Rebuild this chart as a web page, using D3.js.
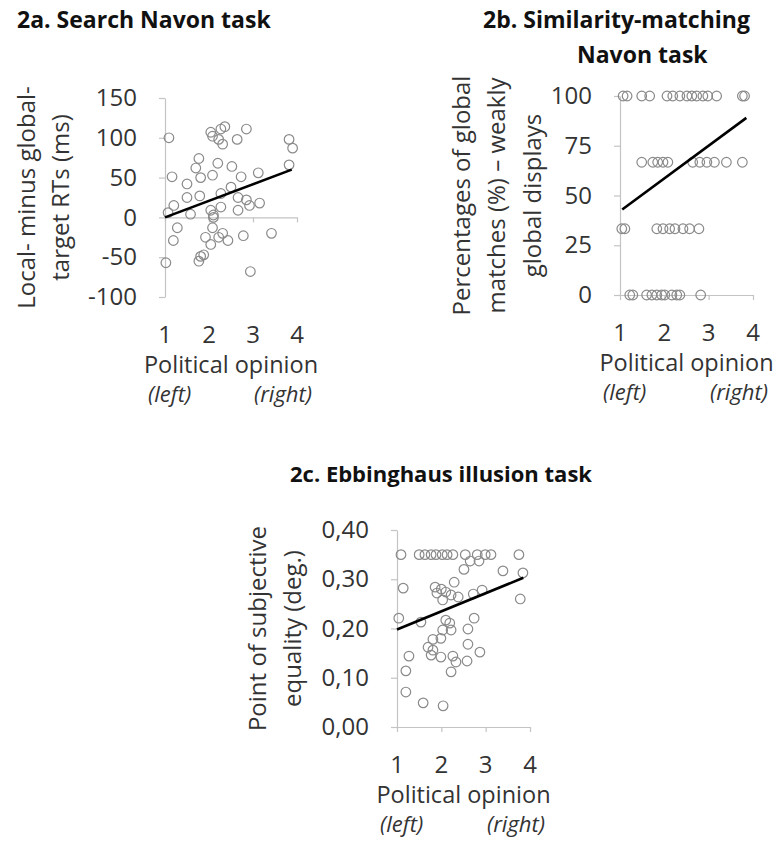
<!DOCTYPE html>
<html>
<head>
<meta charset="utf-8">
<script src="https://cdn.jsdelivr.net/npm/d3@7"></script>
<style>
  body { margin: 0; background: #fff; }
  text { font-family: "Open Sans", sans-serif; }
</style>
</head>
<body>
<div id="chart"></div>
<script>
// shared x axis
const xTicks = [1, 2, 3, 4];

// 2a. Search Navon task
const aYTicks = [-100, -50, 0, 50, 100, 150];
const aX = [1.09, 1.16, 1.5, 1.5, 1.2, 1.07, 1.58, 1.77, 1.7, 1.81, 1.79, 2.04, 2.08, 2.27, 2.36, 2.22, 2.31,
  2.85, 2.64, 2.2, 2.08, 2.52, 2.73, 3.12, 2.5, 2.27, 2.66, 2.85, 2.92, 3.15, 2.66, 2.27, 2.04, 2.1, 3.82, 3.9,
  3.82, 1.28, 1.19, 1.02, 1.92, 2.08, 2.04, 2.31, 2.43, 2.22, 1.88, 1.77, 1.81, 2.78, 3.42, 2.94, 2.1];
const aY = [100, 51, 42, 25, 15, 6, 4, 74, 62, 50, 27, 107, 102, 111, 114, 98, 92,
  111, 98, 68, 53, 64, 51, 56, 38, 30, 25, 22, 15, 18, 9, 13, 9, 3, 98, 87,
  66, -13, -29, -57, -25, -13, -34, -20, -29, -25, -47, -55, -49, -23, -20, -68, 0];
const aFitX = [1, 3.88];
const aFitY = [0, 60];

// 2b. Similarity-matching Navon task
const bYTicks = [0, 25, 50, 75, 100];
const bX = [1.07, 1.16, 1.49, 1.67, 2.06, 2.19, 2.35, 2.51, 2.62, 2.73, 2.87, 2.98, 3.18, 3.76, 3.81,
  1.49, 1.74, 1.85, 1.97, 2.08, 2.64, 2.8, 2.96, 3.13, 3.4, 3.76,
  1.04, 1.11, 1.83, 1.97, 2.12, 2.24, 2.42, 2.57, 2.78,
  1.22, 1.29, 1.6, 1.72, 1.83, 1.94, 2.01, 2.17, 2.28, 2.35, 2.82];
const bY = [100, 100, 100, 100, 100, 100, 100, 100, 100, 100, 100, 100, 100, 100, 100,
  66.7, 66.7, 66.7, 66.7, 66.7, 66.7, 66.7, 66.7, 66.7, 66.7, 66.7,
  33.3, 33.3, 33.3, 33.3, 33.3, 33.3, 33.3, 33.3, 33.3,
  0, 0, 0, 0, 0, 0, 0, 0, 0, 0, 0];
const bFitX = [1.05, 3.85];
const bFitY = [43, 89];

// 2c. Ebbinghaus illusion task
const cYTicks = [0, 0.1, 0.2, 0.3, 0.4];
const cX = [1.09, 1.5, 1.63, 1.77, 1.88, 2.02, 2.13, 2.26, 2.54, 2.81, 2.99, 3.12, 3.75,
  2.65, 2.85, 2.51, 3.39, 3.84, 1.14, 2.29, 1.86, 2.0, 1.9, 2.1, 2.03, 2.22, 2.38, 2.72, 2.92, 3.78,
  1.04, 1.54, 2.1, 2.19, 2.74, 2.03, 2.22, 2.6, 1.99, 1.81, 1.7, 1.81, 2.6, 2.87,
  1.27, 1.77, 1.99, 2.26, 2.33, 2.58, 1.2, 2.22, 1.2, 1.59, 2.04];
const cY = [0.35, 0.35, 0.35, 0.35, 0.35, 0.35, 0.35, 0.35, 0.35, 0.35, 0.35, 0.35, 0.35,
  0.337, 0.337, 0.32, 0.317, 0.313, 0.282, 0.294, 0.284, 0.28, 0.272, 0.274, 0.258, 0.268, 0.264, 0.27, 0.278, 0.26,
  0.221, 0.213, 0.217, 0.211, 0.221, 0.197, 0.197, 0.199, 0.18, 0.178, 0.162, 0.156, 0.168, 0.152,
  0.144, 0.146, 0.142, 0.144, 0.132, 0.134, 0.114, 0.112, 0.071, 0.049, 0.043];
const cFitX = [1, 3.85];
const cFitY = [0.198, 0.303];

const w = 780;
const h = 841;

const svg = d3
  .select("#chart")
  .append("svg")
  .attr("width", w)
  .attr("height", h);

svg.append("rect").attr("width", w).attr("height", h).attr("fill", "#fff");

function drawPanel(p) {
  let x = d3.scaleLinear().domain([1, 4]).range([p.left, p.right]);
  let y = d3.scaleLinear().domain(p.yDomain).range([p.bottom, p.top]);
  let g = svg.append("g");

  let yAxis = d3
    .axisLeft(y)
    .tickValues(p.yTicks)
    .tickSize(6)
    .tickSizeOuter(0)
    .tickPadding(22)
    .tickFormat(p.format);

  let ya = g
    .append("g")
    .attr("transform", `translate(${p.left},0)`)
    .call(yAxis);

  let xAxis = d3
    .axisBottom(x)
    .tickValues(xTicks)
    .tickSize(5)
    .tickSizeOuter(0)
    .tickFormat("");

  let xa = g
    .append("g")
    .attr("transform", `translate(0,${y(p.cross)})`)
    .call(xAxis);

  [ya, xa].forEach(function (a) {
    a.selectAll(".domain, line").attr("stroke", "#c4c4c4").attr("stroke-width", 1.2);
    a.selectAll("text")
      .attr("font-family", "Open Sans, sans-serif")
      .attr("font-size", 24)
      .attr("fill", "#333");
  });

  // x tick labels sit below the plot area
  g.append("g")
    .selectAll("text")
    .data(xTicks)
    .enter()
    .append("text")
    .attr("x", function (d) {
      return x(d);
    })
    .attr("y", p.bottom + 38)
    .attr("dy", "0.35em")
    .attr("text-anchor", "middle")
    .attr("font-size", 24)
    .attr("fill", "#333")
    .text(function (d) {
      return d;
    });

  g.append("text")
    .attr("x", (p.left + p.right) / 2)
    .attr("y", p.bottom + 68)
    .attr("dy", "0.35em")
    .attr("text-anchor", "middle")
    .attr("font-size", 23.5)
    .attr("fill", "#333")
    .text("Political opinion");

  g.append("text")
    .attr("x", p.left - 17)
    .attr("y", p.bottom + 97)
    .attr("dy", "0.35em")
    .attr("font-size", 22)
    .attr("font-style", "italic")
    .attr("fill", "#333")
    .text("(left)");

  g.append("text")
    .attr("x", p.right + 15)
    .attr("y", p.bottom + 97)
    .attr("dy", "0.35em")
    .attr("text-anchor", "end")
    .attr("font-size", 22)
    .attr("font-style", "italic")
    .attr("fill", "#333")
    .text("(right)");

  // rotated y label, one text per line
  let yc = (p.top + p.bottom) / 2;
  p.yLabel.forEach(function (line, i) {
    g.append("text")
      .attr("transform", `translate(${p.yLabelX[i]},${yc}) rotate(-90)`)
      .attr("dy", "0.35em")
      .attr("text-anchor", "middle")
      .attr("font-size", 24)
      .attr("fill", "#333")
      .text(line);
  });

  // points
  g.append("g")
    .selectAll("circle")
    .data(p.xs)
    .enter()
    .append("circle")
    .attr("cx", function (d) {
      return x(d);
    })
    .attr("cy", function (d, i) {
      return y(p.ys[i]);
    })
    .attr("r", 4.8)
    .attr("fill", "none")
    .attr("stroke", "#8a8a8a")
    .attr("stroke-width", 1.2);

  // fitted line
  let line = d3
    .line()
    .x(function (d) {
      return x(d);
    })
    .y(function (d, i) {
      return y(p.fitY[i]);
    });

  g.append("path")
    .attr("d", line(p.fitX))
    .attr("fill", "none")
    .attr("stroke", "#000")
    .attr("stroke-width", 2.6);

  p.title.forEach(function (t) {
    g.append("text")
      .attr("x", t[1])
      .attr("y", t[2])
      .attr("font-size", t[3])
      .attr("font-weight", "bold")
      .attr("fill", "#111")
      .text(t[0]);
  });
}

// plain hyphen for negatives, as in the original
const intFmt = function (d) {
  return String(d);
};

drawPanel({
  left: 165, right: 297, top: 98, bottom: 297,
  yDomain: [-100, 150], yTicks: aYTicks, cross: 0,
  format: intFmt,
  xs: aX, ys: aY, fitX: aFitX, fitY: aFitY,
  yLabel: ["Local- minus global-", "target RTs (ms)"],
  yLabelX: [27, 61],
  title: [["2a. Search Navon task", 17, 28, 23]]
});

drawPanel({
  left: 620, right: 753, top: 96, bottom: 295,
  yDomain: [0, 100], yTicks: bYTicks, cross: 0,
  format: intFmt,
  xs: bX, ys: bY, fitX: bFitX, fitY: bFitY,
  yLabel: ["Percentages of global", "matches (%) – weakly", "global displays"],
  yLabelX: [462, 497, 533],
  title: [["2b. Similarity-matching", 483, 28, 23], ["Navon task", 577, 63, 23]]
});

drawPanel({
  left: 397, right: 530, top: 530, bottom: 727,
  yDomain: [0, 0.4], yTicks: cYTicks, cross: 0,
  format: function (d) {
    return d3.format(".2f")(d).replace(".", ",");
  },
  xs: cX, ys: cY, fitX: cFitX, fitY: cFitY,
  yLabel: ["Point of subjective", "equality (deg.)"],
  yLabelX: [258, 293],
  title: [["2c. Ebbinghaus illusion task", 290, 482, 22]]
});
</script>
</body>
</html>
